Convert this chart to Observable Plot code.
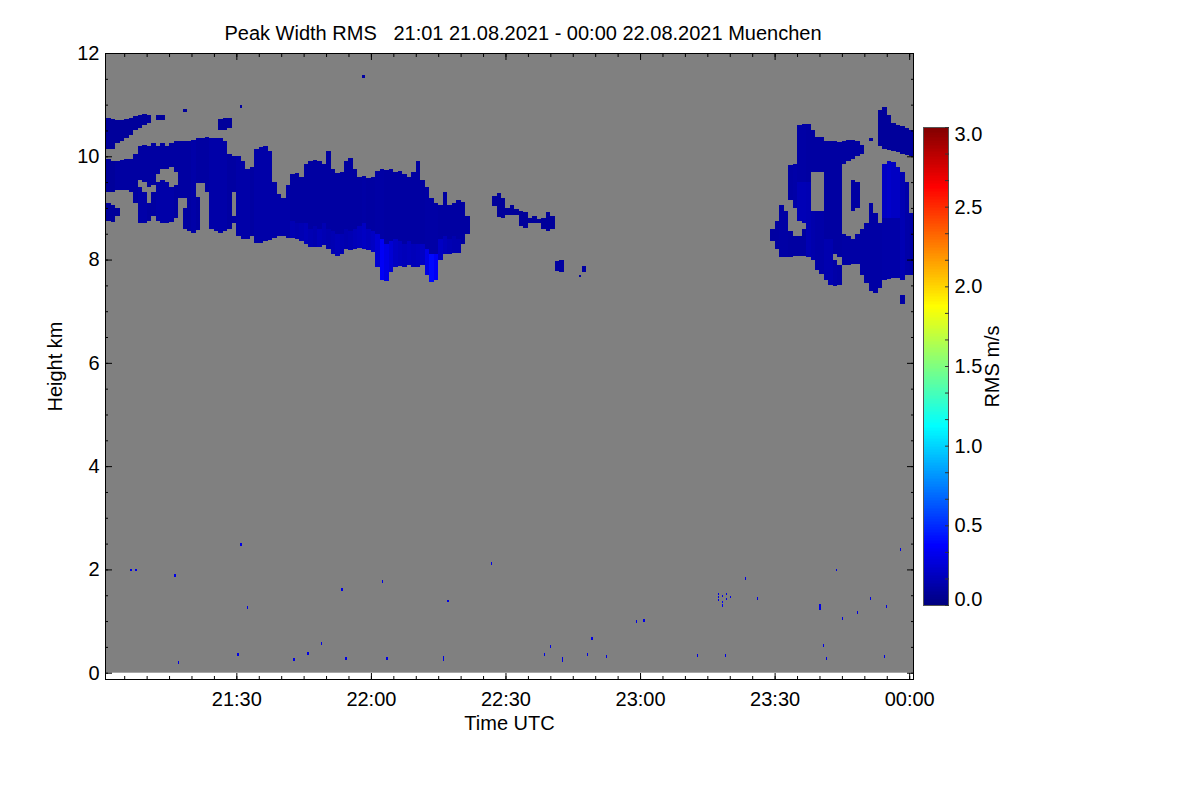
<!DOCTYPE html>
<html>
<head>
<meta charset="utf-8">
<script src="https://cdn.jsdelivr.net/npm/d3@7"></script>
<script src="https://cdn.jsdelivr.net/npm/@observablehq/plot@0.6"></script>
<style>
  body { margin: 0; background: #fff; font-family: "Liberation Sans", Arial, sans-serif; }
  #wrap { position: relative; width: 1200px; height: 800px; overflow: hidden; }
  #title { position: absolute; left: 0; top: 22px; width: 1046px; text-align: center;
           font-size: 20px; line-height: 23px; white-space: pre; color: #000; }
  #main { position: absolute; left: 0; top: 0; }
  #cbar { position: absolute; left: 923px; top: 110px; }
</style>
</head>
<body>
<div id="wrap">
  <div id="main"></div>
  <div id="cbar"></div>
  <div id="title">Peak Width RMS   21:01 21.08.2021 - 00:00 22.08.2021 Muenchen</div>
</div>
<script>
// ---------------- DATA ----------------
// Time is given in minutes after 21:00 UTC (21.08.2021); each cloud cell is one minute wide.
// Cloud cells: [minute, base km, top km, RMS m/s]
const leftCloud = [
  [1,8.75,9.1,.08],[1,9.3,9.95,.08],[1,10.15,10.75,.08],
  [2,8.72,9.05,.08],[2,9.3,9.9,.08],[2,10.15,10.72,.08],
  [3,8.85,9.0,.08],[3,9.35,9.9,.1],[3,10.25,10.7,.08],
  [4,9.35,9.92,.1],[4,10.3,10.7,.08],
  [5,9.35,9.95,.1],[5,10.35,10.72,.08],
  [6,9.3,9.95,.1],[6,10.42,10.75,.08],
  [7,9.1,10.05,.1],[7,10.5,10.78,.08],
  [8,8.7,9.4,.12],[8,9.55,10.2,.1],[8,10.55,10.8,.08],
  [9,8.7,9.3,.12],[9,9.5,10.22,.1],[9,10.6,10.82,.08],
  [10,8.75,9.1,.1],[10,9.4,10.2,.1],[10,10.65,10.8,.08],
  [11,8.85,9.3,.1],[11,9.45,10.25,.1],
  [12,8.75,9.5,.12],[12,9.65,10.2,.1],[12,10.7,10.8,.08],
  [13,8.7,9.55,.12],[13,9.75,10.25,.1],[13,10.7,10.8,.08],
  [14,8.7,9.5,.12],[14,9.75,10.2,.1],
  [15,8.72,9.4,.12],[15,9.8,10.25,.1],
  [16,8.8,9.45,.1],[16,9.7,10.3,.1],
  [17,9.2,10.3,.1],
  [18,8.6,9.0,.1],[18,9.2,10.3,.1],[18,10.85,10.92,.08],
  [19,8.55,10.3,.1],
  [20,8.52,10.32,.12],
  [21,8.58,9.22,.1],[21,9.49,10.36,.1],
  [22,9.49,10.36,.1],
  [23,9.3,10.38,.1],
  [24,8.6,10.35,.12],
  [25,8.55,10.35,.12],
  [26,8.52,10.35,.12],[26,10.5,10.72,.08],
  [27,8.55,10.3,.12],[27,10.5,10.75,.08],
  [28,8.6,10.05,.1],[28,10.55,10.75,.08],
  [29,8.7,8.85,.1],[29,9.3,10.0,.1],
  [30,8.45,10.0,.12],
  [31,8.4,9.9,.12],
  [32,8.4,9.75,.12],
  [33,8.45,9.8,.1],
  [34,8.33,10.15,.12],
  [35,8.33,10.18,.12],
  [36,8.35,10.19,.12],
  [37,8.38,10.1,.12],
  [38,8.42,9.5,.12],
  [39,8.45,9.26,.12],
  [40,8.45,9.2,.12],
  [41,8.42,9.45,.12],
  [42,8.42,8.75,.15],[42,8.75,9.65,.1],
  [43,8.4,8.7,.14],[43,8.7,9.68,.1],
  [44,8.35,8.7,.15],[44,8.7,9.6,.1],
  [45,8.3,8.7,.17],[45,8.7,9.85,.1],
  [46,8.25,8.6,.15],[46,8.6,9.9,.1],
  [47,8.25,8.65,.14],[47,8.65,9.92,.1],
  [48,8.25,8.6,.17],[48,8.6,9.9,.1],
  [49,8.28,8.7,.15],[49,8.7,9.85,.1],
  [50,8.2,8.6,.14],[50,8.6,10.1,.1],
  [51,8.1,8.55,.15],[51,8.55,9.75,.1],
  [52,8.06,8.5,.17],[52,8.5,9.68,.1],
  [53,8.1,8.5,.15],[53,8.5,9.7,.1],
  [54,8.2,8.6,.14],[54,8.6,9.9,.1],
  [55,8.19,8.55,.15],[55,8.55,9.97,.1],
  [56,8.2,8.6,.17],[56,8.6,9.75,.1],
  [57,8.22,8.65,.18],[57,8.65,9.6,.1],
  [58,8.2,8.7,.2],[58,8.7,9.62,.11],
  [59,8.18,8.6,.18],[59,8.6,9.58,.1],
  [60,8.15,8.55,.2],[60,8.55,9.6,.1],
  [61,7.85,8.5,.25],[61,8.5,9.72,.11],
  [62,7.6,8.4,.35],[62,8.4,9.75,.11],
  [63,7.58,8.3,.3],[63,8.3,9.74,.1],
  [64,7.75,8.35,.25],[64,8.35,9.76,.1],
  [65,7.86,8.4,.2],[65,8.4,9.7,.1],
  [66,7.88,8.35,.18],[66,8.35,9.72,.1],
  [67,7.86,8.3,.17],[67,8.3,9.65,.1],
  [68,7.9,8.35,.18],[68,8.35,9.6,.1],
  [69,7.85,8.3,.17],[69,8.3,9.7,.1],
  [70,7.85,8.3,.18],[70,8.3,9.9,.1],
  [71,7.9,8.3,.2],[71,8.3,9.55,.1],
  [72,7.7,8.2,.3],[72,8.2,9.4,.11],
  [73,7.57,8.1,.4],[73,8.1,9.2,.11],
  [74,7.6,8.1,.35],[74,8.1,9.1,.11],
  [75,8.0,8.4,.2],[75,8.4,9.05,.1],
  [76,8.1,8.45,.17],[76,8.45,9.3,.1],
  [77,8.1,8.4,.15],[77,8.4,9.05,.1],
  [78,8.12,8.45,.14],[78,8.45,9.1,.1],
  [79,8.12,8.4,.14],[79,8.4,9.16,.1],
  [80,8.3,9.12,.1],
  [81,8.5,8.85,.1]
];

const middleCloud = [
  [87,9.03,9.24,.08],[88,8.83,9.28,.08],[89,8.81,9.2,.08],[90,8.86,9.0,.08],
  [91,8.86,9.05,.08],[92,8.86,8.98,.08],[93,8.65,8.95,.08],[94,8.62,8.92,.08],
  [95,8.7,8.8,.08],[96,8.7,8.85,.08],[97,8.7,8.78,.08],[98,8.6,8.8,.08],
  [99,8.55,8.93,.08],[100,8.6,8.85,.08],[101,7.78,7.98,.1],[102,7.75,8.0,.1],
  [107,7.75,7.88,.1]
];

const rightCloud = [
  [149,8.35,8.6,.1],
  [150,8.2,8.75,.1],
  [151,8.05,9.05,.11],
  [152,8.05,8.95,.11],
  [153,8.05,8.55,.1],[153,9.15,9.84,.11],
  [154,8.07,8.45,.1],[154,9.0,9.85,.12],
  [155,8.06,8.45,.1],[155,8.74,9.5,.16],[155,9.5,10.6,.11],
  [156,8.06,8.6,.1],[156,8.7,9.5,.16],[156,9.5,10.62,.11],
  [157,8.05,9.5,.15],[157,9.5,10.63,.1],
  [158,8.0,8.94,.13],[158,9.7,10.5,.1],
  [159,7.8,8.94,.12],[159,9.7,10.38,.1],
  [160,7.73,8.94,.12],[160,9.7,10.38,.1],
  [161,7.6,8.4,.14],[161,8.4,10.3,.1],
  [162,7.5,8.4,.14],[162,8.4,10.3,.1],
  [163,7.48,8.0,.12],[163,8.1,10.3,.1],
  [164,7.5,7.9,.11],[164,8.05,10.28,.1],
  [165,7.9,8.5,.11],[165,9.85,10.3,.1],
  [166,7.9,8.45,.11],[166,9.9,10.32,.1],
  [167,7.92,8.4,.11],[167,8.95,9.55,.1],[167,9.95,10.32,.1],
  [168,7.92,8.5,.11],[168,9.0,9.5,.1],[168,10.0,10.3,.1],
  [169,7.7,8.6,.11],[169,10.05,10.22,.1],
  [170,7.55,8.7,.11],
  [171,7.4,9.1,.11],[171,10.3,10.35,.1],
  [172,7.36,8.9,.11],
  [173,7.45,8.7,.11],[173,10.2,10.9,.08],
  [174,7.6,8.8,.12],[174,8.8,9.85,.2],[174,10.15,10.96,.08],
  [175,7.62,8.8,.12],[175,8.8,9.9,.22],[175,10.12,10.8,.08],
  [176,7.65,8.8,.12],[176,8.8,9.88,.2],[176,10.1,10.65,.08],
  [177,7.65,8.8,.12],[177,8.8,9.8,.2],[177,10.08,10.6,.08],
  [178,7.13,7.32,.11],[178,7.6,9.7,.15],[178,10.05,10.58,.08],
  [179,7.7,9.5,.12],[179,10.02,10.55,.08],
  [180,7.7,8.9,.11],[180,10.0,10.5,.08]
];

// Isolated single-pixel returns: [minute, height km, RMS m/s]
const specks = [
  [6.4,1.96,.3],[7.5,1.96,.3],[16.2,1.86,.3],[30.9,2.46,.3],[32.4,1.24,.3],
  [16.9,0.17,.3],[30.2,0.33,.3],[42.7,0.23,.3],[45.8,0.35,.3],[48.9,0.54,.3],
  [53.4,1.59,.3],[54.3,0.25,.3],[62.5,1.74,.3],[63.4,0.25,.3],[76.1,0.23,.3],
  [76.1,0.28,.3],[77.0,1.36,.3],[86.8,2.09,.3],[98.6,0.33,.3],[99.9,0.48,.3],
  [102.6,0.2,.3],[102.6,0.25,.3],[108.2,0.33,.3],[109.1,0.64,.3],[112.4,0.29,.3],
  [119.1,0.97,.3],[120.7,0.99,.3],[132.7,0.31,.3],[138.9,0.31,.3],[143.3,1.8,.3],
  [146.0,1.41,.3],[160.0,1.28,.3],[160.0,1.22,.3],[163.6,1.96,.3],[165.0,1.03,.3],
  [168.3,1.14,.3],[171.2,1.41,.3],[174.8,1.26,.3],[177.9,2.36,.3],[174.4,0.29,.3],
  [160.7,0.5,.3],[161.4,0.25,.3],[30.9,10.94,.1],[106.5,7.66,.1],
  [58.0,11.52,.1],[58.3,11.52,.1],
  [137.4,1.5,.3],[137.4,1.44,.3],[137.4,1.38,.3],[138.2,1.34,.35],[138.2,1.28,.35],
  [138.2,1.46,.3],[139.1,1.4,.3],[139.1,1.5,.3],[140.0,1.44,.3]
];

const heightTicks = [0, 2, 4, 6, 8, 10, 12];
const timeTicks = ["21:30", "22:00", "22:30", "23:00", "23:30", "00:00"];
const rmsTicks = [0, 0.5, 1, 1.5, 2, 2.5, 3];
const timeStart = 0.72, timeEnd = 180.85;   // plotted time window (minutes after 21:00)
const dataHeight = [0, 12];                  // height range covered by the radar (km)

// ---------------- HELPERS ----------------
const T0 = Date.UTC(2021, 7, 21, 21, 0, 0);
const t = m => new Date(T0 + m * 60000);
const parseTick = s => { const [h, mi] = s.split(":").map(Number); return t((h < 21 ? h + 24 - 21 : h - 21) * 60 + mi); };
const clamp01 = v => Math.max(0, Math.min(1, v));
function jet(u) {
  const r = clamp01(1.5 - Math.abs(4 * u - 3));
  const g = clamp01(1.5 - Math.abs(4 * u - 2));
  const b = clamp01(1.5 - Math.abs(4 * u - 1));
  return d3.rgb(r * 255, g * 255, b * 255).toString();
}
const colorScale = { type: "linear", domain: [0, 3], interpolate: jet, clamp: true };
const font = { fontFamily: "Liberation Sans, Arial, sans-serif", fontSize: "20px", background: "transparent", color: "#000", overflow: "visible" };

const majorTimes = timeTicks.map(parseTick);
const minorTimes = d3.utcMinute.every(5).range(t(timeStart), t(timeEnd));
const minorHeights = d3.range(0, 12.001, 0.5);
const fmt = d3.utcFormat("%H:%M");
const cells = [...leftCloud, ...middleCloud, ...rightCloud];

// ---------------- MAIN PANEL ----------------
const main = Plot.plot({
  width: 1200, height: 800,
  marginLeft: 105, marginRight: 287, marginTop: 53, marginBottom: 121,
  style: font,
  x: { type: "utc", domain: [t(timeStart), t(timeEnd)] },
  y: { domain: [-0.122, 12] },
  color: colorScale,
  marks: [
    Plot.rect([dataHeight], { x1: () => t(timeStart), x2: () => t(timeEnd), y1: d => d[0], y2: d => d[1], fill: "#808080" }),
    Plot.rect(cells, { x1: d => t(d[0]), x2: d => t(d[0] + 1), y1: d => d[1], y2: d => d[2], fill: d => d[3], shapeRendering: "crispEdges", clip: true }),
    Plot.rect(specks, { x1: d => t(d[0]), x2: d => t(d[0] + 0.3), y1: d => d[1], y2: d => d[1] + 0.05, fill: d => d[2], shapeRendering: "crispEdges", clip: true }),
    Plot.frame({ stroke: "#000", strokeWidth: 1 }),
    // left axis
    Plot.axisY(heightTicks, { anchor: "left", tickSize: -7, tickPadding: 13, tickFormat: d => String(d), label: null, stroke: "#000", fontSize: 20 }),
    Plot.axisY(minorHeights, { anchor: "left", tickSize: -3, tickFormat: () => "", label: null, stroke: "#000" }),
    // right axis (ticks only)
    Plot.axisY(heightTicks, { anchor: "right", tickSize: -7, tickFormat: () => "", label: null, stroke: "#000" }),
    Plot.axisY(minorHeights, { anchor: "right", tickSize: -3, tickFormat: () => "", label: null, stroke: "#000" }),
    // bottom axis
    Plot.axisX(majorTimes, { anchor: "bottom", tickSize: -6, tickPadding: 18, tickFormat: fmt, label: null, stroke: "#000", fontSize: 20 }),
    Plot.axisX(minorTimes, { anchor: "bottom", tickSize: -3, tickFormat: () => "", label: null, stroke: "#000" }),
    // top axis (ticks only)
    Plot.axisX(majorTimes, { anchor: "top", tickSize: -6, tickFormat: () => "", label: null, stroke: "#000" }),
    Plot.axisX(minorTimes, { anchor: "top", tickSize: -3, tickFormat: () => "", label: null, stroke: "#000" }),
    Plot.text(["Height km"], { text: d => d, frameAnchor: "left", dx: -50, rotate: -90, textAnchor: "middle", lineAnchor: "middle", fontSize: 20 }),
    Plot.text(["Time UTC"], { text: d => d, frameAnchor: "bottom", dy: 44, textAnchor: "middle", lineAnchor: "middle", fontSize: 20 })
  ]
});
document.getElementById("main").append(main);

// ---------------- COLOUR BAR ----------------
const barStep = 0.01;
const barSteps = d3.range(0, 3, barStep);
const barMinor = d3.range(0, 3.001, 0.5 / 3);
const cbar = Plot.plot({
  width: 125, height: 512,
  marginLeft: 0, marginRight: 100, marginTop: 17, marginBottom: 17,
  style: font,
  x: { domain: [0, 1], axis: null },
  y: { domain: [0, 3] },
  color: colorScale,
  marks: [
    Plot.rect(barSteps, { x1: 0, x2: 1, y1: d => d, y2: d => d + barStep, fill: d => d + barStep / 2, shapeRendering: "crispEdges" }),
    Plot.frame({ stroke: "#555" }),
    Plot.axisY(barMinor, { anchor: "right", tickSize: -4, tickFormat: () => "", label: null, stroke: "#333" }),
    Plot.axisY(rmsTicks.slice(1, -1), { anchor: "right", tickSize: 0, tickPadding: 6, tickFormat: d3.format(".1f"), label: null, fontSize: 20 }),
    Plot.text([rmsTicks[0]], { y: d => d, text: d => d3.format(".1f")(d), frameAnchor: "right", dx: 6, dy: -6, textAnchor: "start", lineAnchor: "middle", fontSize: 20 }),
    Plot.text([rmsTicks[rmsTicks.length - 1]], { y: d => d, text: d => d3.format(".1f")(d), frameAnchor: "right", dx: 6, dy: 7, textAnchor: "start", lineAnchor: "middle", fontSize: 20 }),
    Plot.text(["RMS m/s"], { text: d => d, frameAnchor: "right", dx: 44, rotate: -90, textAnchor: "middle", lineAnchor: "middle", fontSize: 20 })
  ]
});
document.getElementById("cbar").append(cbar);
</script>
</body>
</html>
